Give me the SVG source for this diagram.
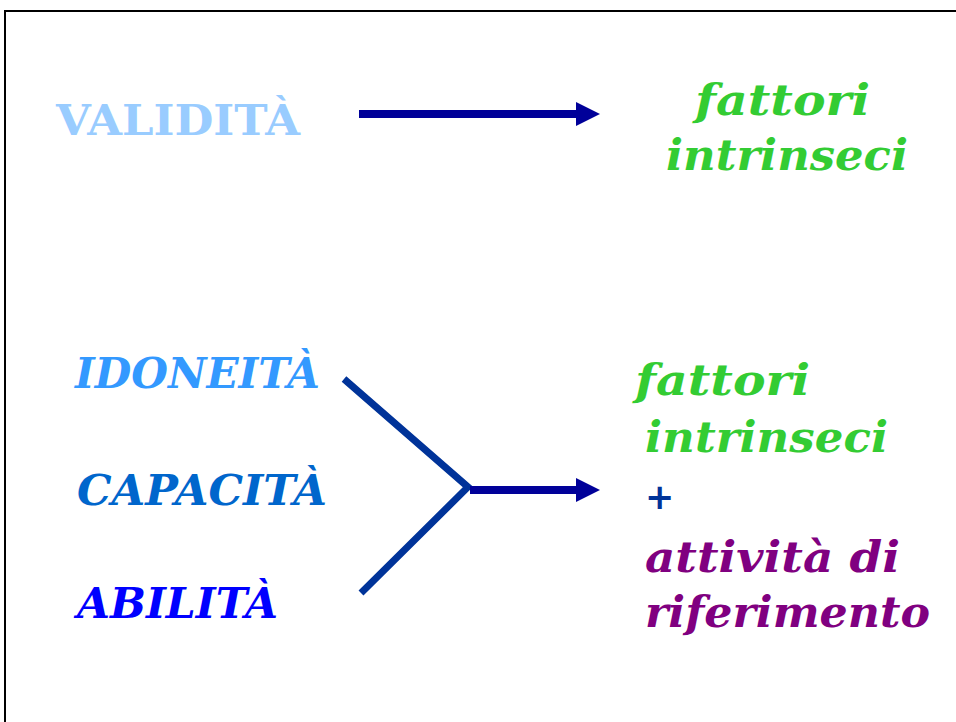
<svg xmlns="http://www.w3.org/2000/svg" width="956" height="722" viewBox="0 0 956 722">
<style>
.t{font-family:"DejaVu Serif","Liberation Serif",serif;font-weight:bold;font-size:43px}
.i{font-style:italic}
.conn{stroke-linecap:butt;fill:none}
</style>
<defs>
<marker id="ah" markerUnits="userSpaceOnUse" markerWidth="24" markerHeight="24" refX="0" refY="12" orient="auto" viewBox="0 0 24 24">
<path d="M0,0 L24,12 L0,24 Z" fill="#000099"/>
</marker>
</defs>
<rect width="956" height="722" fill="#ffffff"/>
<path d="M5,722 V11 H956" fill="none" stroke="#000" stroke-width="2"/>
<g id="validita"><text class="t" x="56" y="135" fill="#99CCFF" textLength="244" lengthAdjust="spacingAndGlyphs">VALIDITÀ</text></g>
<g id="fattori1"><text class="t i" x="695" y="115" fill="#33CC33" textLength="175" lengthAdjust="spacingAndGlyphs">fattori</text><text class="t i" x="666" y="170" fill="#33CC33" textLength="242" lengthAdjust="spacingAndGlyphs">intrinseci</text></g>
<g id="idoneita"><text class="t i" x="75" y="388" fill="#3399FF" textLength="245" lengthAdjust="spacingAndGlyphs">IDONEITÀ</text></g>
<g id="capacita"><text class="t i" x="77" y="505" fill="#0066CC" textLength="250" lengthAdjust="spacingAndGlyphs">CAPACITÀ</text></g>
<g id="abilita"><text class="t i" x="77" y="618" fill="#0000FF" textLength="201" lengthAdjust="spacingAndGlyphs">ABILITÀ</text></g>
<g id="fattori2"><text class="t i" x="635" y="395" fill="#33CC33" textLength="175" lengthAdjust="spacingAndGlyphs">fattori</text><text class="t i" x="645" y="452" fill="#33CC33" textLength="243" lengthAdjust="spacingAndGlyphs">intrinseci</text><text x="645" y="509" fill="#003399" font-family="DejaVu Sans, sans-serif" font-weight="bold" font-size="35">+</text><text class="t i" x="645" y="572" fill="#800080" textLength="255" lengthAdjust="spacingAndGlyphs">attività di</text><text class="t i" x="645" y="627" fill="#800080" textLength="285" lengthAdjust="spacingAndGlyphs">riferimento</text></g>
<g id="connectors">
<line class="conn" x1="359" y1="114" x2="576" y2="114" stroke="#000099" stroke-width="8" marker-end="url(#ah)"/>
<polyline class="conn" points="344,379 468,487 361,593" stroke="#003399" stroke-width="7" stroke-linejoin="miter"/>
<line class="conn" x1="470" y1="490" x2="576" y2="490" stroke="#000099" stroke-width="8" marker-end="url(#ah)"/>
</g>
</svg>
